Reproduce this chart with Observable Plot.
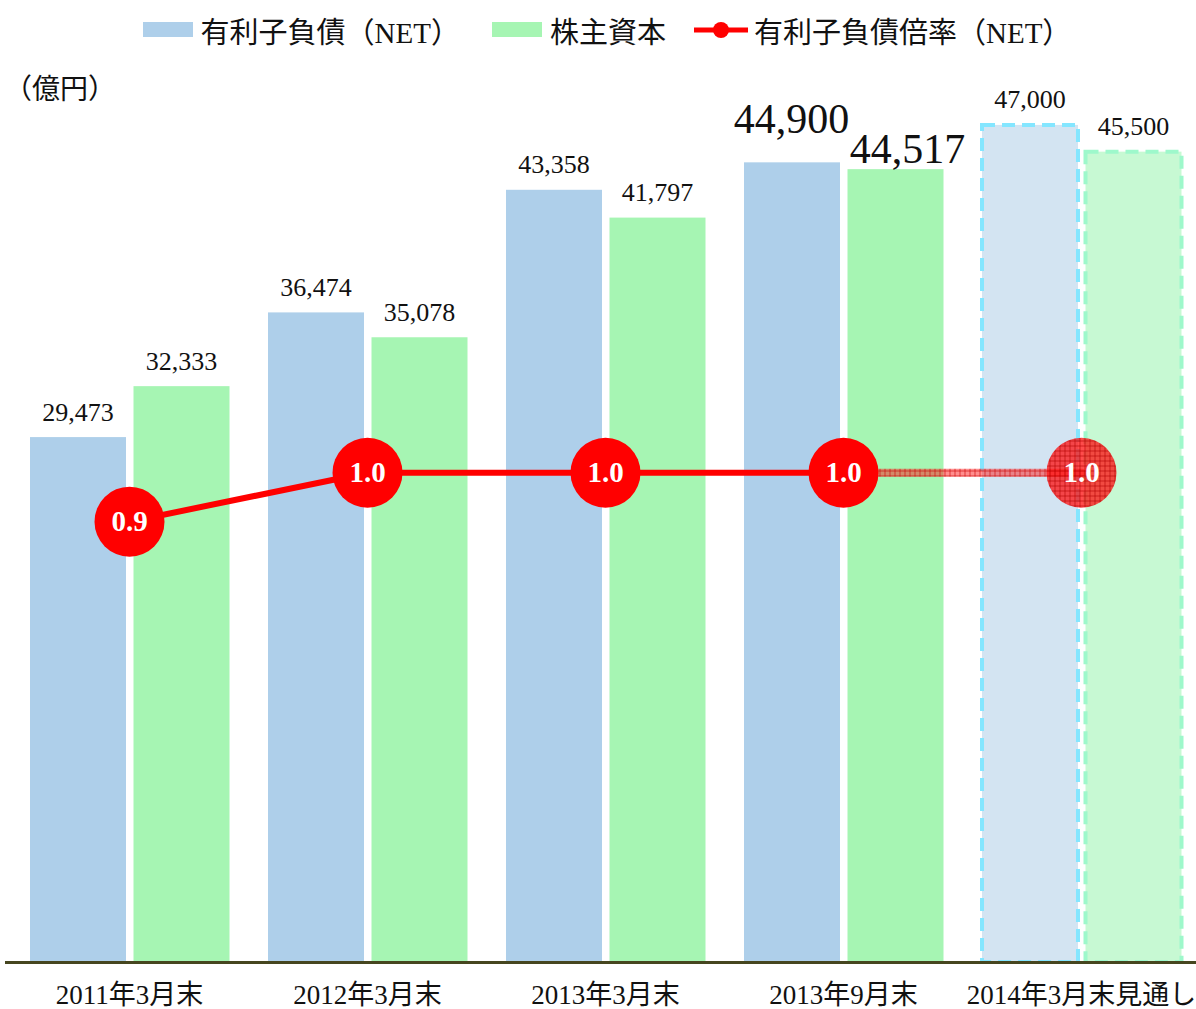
<!DOCTYPE html>
<html><head><meta charset="utf-8">
<script src="https://cdn.jsdelivr.net/npm/d3@7"></script>
<script src="https://cdn.jsdelivr.net/npm/@observablehq/plot@0.6"></script>
<style>
html,body{margin:0;padding:0;background:#fff;}
body{width:1196px;height:1009px;overflow:hidden;position:relative;font-family:"Liberation Serif","Noto Sans CJK JP",serif;color:#111;}
#legend{height:55px;display:flex;align-items:center;justify-content:center;font-size:29px;padding-left:18px;padding-top:4px;box-sizing:border-box;}
.item{display:flex;align-items:center;}
.sw{width:50px;height:15px;margin-right:8px;}
.txt{white-space:nowrap;}
#unit{position:absolute;left:4px;top:73px;font-size:28px;line-height:1;font-family:"Noto Sans CJK JP",sans-serif;}
#chart svg{display:block;}
</style></head>
<body>
<svg width="0" height="0" style="position:absolute">
  <defs>
    <pattern id="hatch" width="5" height="5" patternUnits="userSpaceOnUse">
      <rect width="5" height="5" fill="#ff2020" fill-opacity="0.5"></rect>
      <path d="M0 0.5H5M0.5 0V5" stroke="#cc0000" stroke-width="1" stroke-opacity="0.6"></path>
    </pattern>
    <pattern id="hatchDot" width="5" height="5" patternUnits="userSpaceOnUse">
      <rect width="5" height="5" fill="#ff1010" fill-opacity="0.75"></rect>
      <path d="M0 0.5H5M0.5 0V5" stroke="#b00000" stroke-width="1" stroke-opacity="0.6"></path>
    </pattern>
  </defs>
</svg>
<div id="legend">
  <div class="item"><div class="sw" style="background:#aecfea"></div><span class="txt">有利子負債（NET）</span></div>
  <div class="item" style="margin-left:32px"><div class="sw" style="background:#a6f5b3"></div><span class="txt">株主資本</span></div>
  <div class="item" style="margin-left:28px"><svg width="54" height="20" style="margin-right:6px"><line x1="0" y1="10" x2="54" y2="10" stroke="#ff0000" stroke-width="5"></line><circle cx="27" cy="10" r="8" fill="#ff0000"></circle></svg><span class="txt">有利子負債倍率（NET）</span></div>
</div>
<div id="unit">（億円）</div>
<div id="chart"></div>
<script>
const categories = ["2011年3月末","2012年3月末","2013年3月末","2013年9月末","2014年3月末見通し"];
const debt = [29473, 36474, 43358, 44900, 47000];
const equity = [32333, 35078, 41797, 44517, 45500];
const ratio = [0.9, 1.0, 1.0, 1.0, 1.0];
const forecast = [false, false, false, false, true];
const highlight = [false, false, false, true, false];

// secondary (ratio) axis mapped onto the amount axis: 1.0 ratio == 27500 億円 of height
const RATIO_K = 27500;

const rows = categories.map((c, i) => ({cat: c, debt: debt[i], equity: equity[i], ratio: ratio[i], forecast: forecast[i], big: highlight[i]}));
const actual = rows.filter(d => !d.forecast);
const fcst = rows.filter(d => d.forecast);
const fmt = d3.format(",");
const serif = "Liberation Serif, Noto Sans CJK JP, serif";

const W = 1196, H = 954;
const chart = Plot.plot({
  width: W, height: H,
  marginLeft: 5, marginRight: 0, marginTop: 16.5, marginBottom: 47,
  style: {fontFamily: serif, background: "white", overflow: "visible"},
  x: {domain: categories, range: [10, 1200], padding: 0, axis: null},
  y: {domain: [0, 50000], axis: null},
  marks: [
    Plot.barY(actual, {x: "cat", y: "debt", fill: "#aecfea", insetLeft: 20, insetRight: 122}),
    Plot.barY(actual, {x: "cat", y: "equity", fill: "#a6f5b3", insetLeft: 123.5, insetRight: 18.5}),
    Plot.barY(fcst, {x: "cat", y: "debt", fill: "#d3e4f2", stroke: "#84e6ff", strokeWidth: 4, strokeDasharray: "13,7", insetLeft: 20, insetRight: 122}),
    Plot.barY(fcst, {x: "cat", y: "equity", fill: "#c7f9d3", stroke: "#9ef8cb", strokeWidth: 4, strokeDasharray: "13,7", insetLeft: 123.5, insetRight: 18.5}),
    Plot.ruleY([0], {stroke: "#46461f", strokeWidth: 3}),
    Plot.text(rows.filter(d => !d.big), {x: "cat", y: "debt", text: d => fmt(d.debt), dx: -51.5, dy: -17, lineAnchor: "bottom", fontSize: 26, fill: "#111"}),
    Plot.text(rows.filter(d => !d.big), {x: "cat", y: "equity", text: d => fmt(d.equity), dx: 52, dy: -17, lineAnchor: "bottom", fontSize: 26, fill: "#111"}),
    Plot.text(rows.filter(d => d.big), {x: "cat", y: "debt", text: d => fmt(d.debt), dx: -52, dy: -30, lineAnchor: "bottom", fontSize: 42, fill: "#111"}),
    Plot.text(rows.filter(d => d.big), {x: "cat", y: "equity", text: d => fmt(d.equity), dx: 64, dy: -7, lineAnchor: "bottom", fontSize: 42, fill: "#111"}),
    Plot.line(rows.slice(0, 4), {x: "cat", y: d => d.ratio * RATIO_K, stroke: "#ff0000", strokeWidth: 6}),
    Plot.line(rows.slice(3, 5), {x: "cat", y: d => d.ratio * RATIO_K, stroke: "url(#hatch)", strokeWidth: 8}),
    Plot.dot(actual, {x: "cat", y: d => d.ratio * RATIO_K, r: 35, fill: "#ff0000"}),
    Plot.dot(fcst, {x: "cat", y: d => d.ratio * RATIO_K, r: 35, fill: "url(#hatchDot)"}),
    Plot.text(rows, {x: "cat", y: d => d.ratio * RATIO_K, text: d => d.ratio.toFixed(1), fill: "white", fontWeight: "bold", fontSize: 29}),
    Plot.text(categories, {x: d => d, y: 0, text: d => d, dy: 41, lineAnchor: "bottom", fontSize: 27, fill: "#111"})
  ]
});
document.getElementById("chart").appendChild(chart);
</script>
</body></html>
